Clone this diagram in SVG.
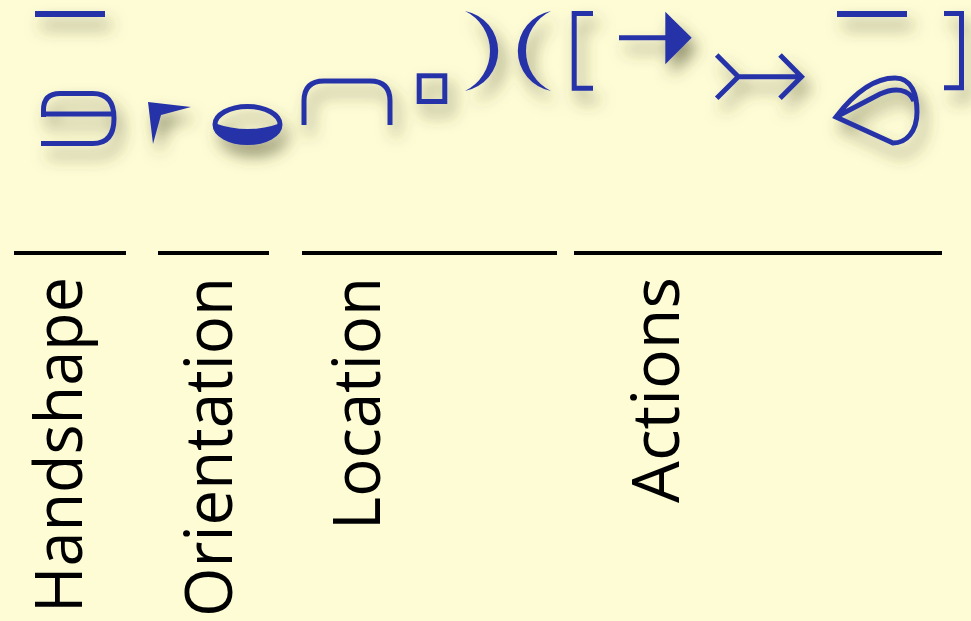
<svg xmlns="http://www.w3.org/2000/svg" width="971" height="621" viewBox="0 0 971 621">
<defs>
<filter id="sh" x="-50%" y="-50%" width="220%" height="240%">
<feGaussianBlur in="SourceAlpha" stdDeviation="8"/>
<feOffset dx="6" dy="11" result="b"/>
<feFlood flood-color="#4a4a28" flood-opacity="0.6"/>
<feComposite in2="b" operator="in"/>
<feMerge><feMergeNode/><feMergeNode in="SourceGraphic"/></feMerge>
</filter>
</defs>
<style>
.g{fill:none;stroke:#2633A8;stroke-width:5}
.f{fill:#2633A8;stroke:none}
.rule{stroke:#000;stroke-width:4}
.lab{font-family:"Open Sans","Noto Sans",sans-serif;font-size:66px;fill:#000;text-anchor:end}
</style>
<rect width="971" height="621" fill="#FDFCD5"/>
<g id="glyphs" filter="url(#sh)">
<g id="hs-bar"><rect class="f" x="35" y="11" width="70" height="6"/></g>
<g id="hs-shape"><path class="g" d="M43.5,117 V110 Q43.5,93.5 60,93.5 H93 Q114,93.5 114,118.5 Q114,143.5 93,143.5 H41 M41,114 H116"/></g>
<g id="orient"><path class="f" d="M148,102 L191,107 L161,115 L153,144 Z"/></g>
<g id="ellipse"><ellipse class="g" cx="247.5" cy="124.5" rx="32.5" ry="18" stroke-width="4"/><path class="f" d="M214,123 Q248,135 281,123 A33.5,19 0 0 1 214,123 Z"/></g>
<g id="loc-arch"><path class="g" d="M304,125 V101 Q304,81 324,81 H370 Q390,81 390,101 V125"/></g>
<g id="loc-square"><rect class="g" x="419.2" y="75.8" width="25.6" height="25.7"/></g>
<g id="paren-r"><path class="f" d="M465,11 A40.7,40.7 0 0 1 465,91 A44.5,44.5 0 0 0 465,11 Z"/></g>
<g id="paren-l"><path class="f" d="M551,11 A40.7,40.7 0 0 0 551,91 A44.5,44.5 0 0 1 551,11 Z"/></g>
<g id="bracket-l"><path class="g" d="M593,13.5 H574.2 V88.2 H593"/></g>
<g id="arrow-filled"><path class="g" stroke-width="4.5" d="M619,37.7 H668"/><path class="f" d="M665.3,11.7 L691.7,37.7 L665.3,64.3 Z"/></g>
<g id="arrow-open"><path class="g" d="M716.7,55 L738.3,76.7 L716.7,98.3 M738.3,76.7 H800 M780,55 L801.5,76.7 L780,98.3"/></g>
<g id="act-bar"><rect class="f" x="837" y="11" width="70" height="6"/></g>
<g id="teardrop"><path class="g" stroke-width="4.5" d="M836,117 C855,92 875,78 895,78 C912,78 917,95 917,112 C917,132 906,143 893,143 Z M836,117 L880,94 C895,87 909,89 914,101"/></g>
<g id="bracket-r"><path class="g" d="M944,13.5 H961.5 V87.7 H944"/></g>
</g>
<g id="label-handshape"><line class="rule" x1="14" y1="253" x2="126" y2="253"/><text class="lab" transform="translate(82,277) rotate(-90)" textLength="336" lengthAdjust="spacingAndGlyphs">Handshape</text></g>
<g id="label-orientation"><line class="rule" x1="158" y1="253" x2="269" y2="253"/><text class="lab" transform="translate(232,277) rotate(-90)" textLength="340" lengthAdjust="spacingAndGlyphs">Orientation</text></g>
<g id="label-location"><line class="rule" x1="302" y1="253" x2="557" y2="253"/><text class="lab" transform="translate(380,277) rotate(-90)" textLength="253" lengthAdjust="spacingAndGlyphs">Location</text></g>
<g id="label-actions"><line class="rule" x1="574" y1="253" x2="942" y2="253"/><text class="lab" transform="translate(679,277) rotate(-90)" textLength="226" lengthAdjust="spacingAndGlyphs">Actions</text></g>
</svg>
